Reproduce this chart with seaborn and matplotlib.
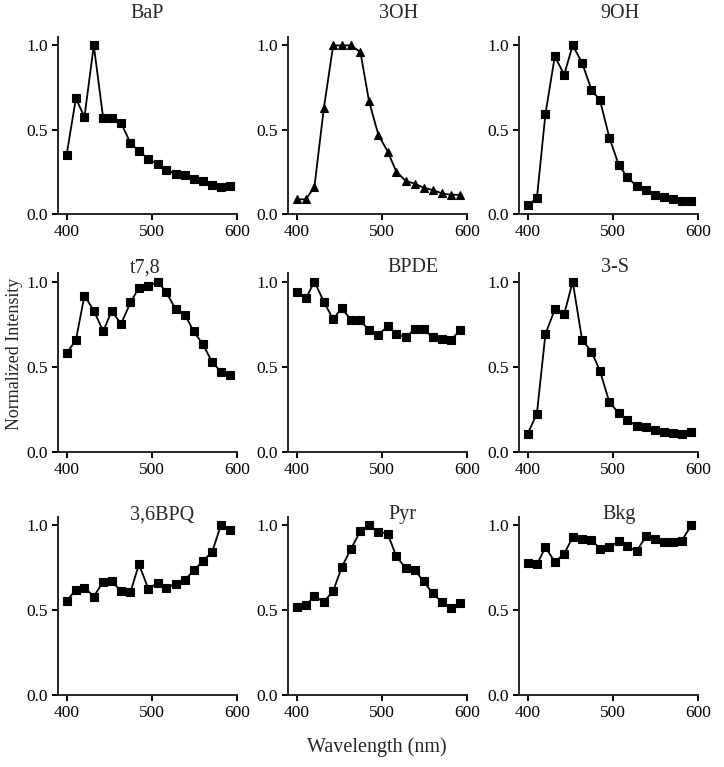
import numpy as np
import pandas as pd
import matplotlib
matplotlib.use("Agg")
import matplotlib.pyplot as plt
import seaborn as sns

# wavelengths (nm), 19 emission channels
wavelength = [400, 411, 421, 432, 443, 453, 464, 475, 485, 496,
              507, 517, 528, 539, 549, 560, 571, 581, 592]

BaP = [0.348, 0.686, 0.575, 1.0, 0.569, 0.571, 0.54, 0.421, 0.372, 0.328,
       0.294, 0.263, 0.237, 0.229, 0.21, 0.194, 0.172, 0.16, 0.168]
OH3 = [0.087, 0.087, 0.161, 0.626, 1.0, 1.0, 1.0, 0.96, 0.67, 0.47,
       0.37, 0.252, 0.197, 0.179, 0.156, 0.142, 0.122, 0.114, 0.114]
OH9 = [0.051, 0.094, 0.593, 0.935, 0.827, 1.0, 0.898, 0.736, 0.675, 0.453,
       0.291, 0.219, 0.165, 0.142, 0.114, 0.1, 0.087, 0.077, 0.077]
t78 = [0.579, 0.656, 0.917, 0.83, 0.708, 0.828, 0.751, 0.877, 0.964, 0.972,
       1.0, 0.937, 0.838, 0.806, 0.708, 0.632, 0.526, 0.472, 0.45]
BPDE = [0.941, 0.901, 1.0, 0.881, 0.779, 0.846, 0.773, 0.773, 0.713, 0.688,
        0.737, 0.694, 0.672, 0.723, 0.719, 0.672, 0.664, 0.658, 0.713]
S3 = [0.105, 0.225, 0.692, 0.836, 0.808, 1.0, 0.658, 0.589, 0.476, 0.292,
      0.229, 0.186, 0.154, 0.144, 0.13, 0.119, 0.111, 0.107, 0.115]
BPQ36 = [0.553, 0.621, 0.634, 0.581, 0.668, 0.674, 0.611, 0.607, 0.771, 0.626,
         0.662, 0.634, 0.656, 0.678, 0.735, 0.789, 0.846, 1.0, 0.976]
Pyr = [0.52, 0.53, 0.583, 0.549, 0.613, 0.753, 0.864, 0.966, 1.0, 0.964,
       0.951, 0.818, 0.749, 0.737, 0.67, 0.599, 0.547, 0.514, 0.54]
Bkg = [0.776, 0.77, 0.872, 0.785, 0.833, 0.931, 0.923, 0.917, 0.862, 0.872,
       0.906, 0.876, 0.85, 0.935, 0.921, 0.9, 0.902, 0.911, 1.0]

titles = ["BaP", "3OH", "9OH", "t7,8", "BPDE", "3-S", "3,6BPQ", "Pyr", "Bkg"]
series = [BaP, OH3, OH9, t78, BPDE, S3, BPQ36, Pyr, Bkg]
markers = ["s", "^", "s", "s", "s", "s", "s", "s", "s"]

sns.set_style("ticks")
plt.rcParams['font.family'] = ['Liberation Serif', 'DejaVu Serif']
plt.rcParams['axes.linewidth'] = 1.4

W, H = 724, 767
fig = plt.figure(figsize=(W / 100, H / 100), dpi=100)

col_x = [58, 288, 519]
row_y = [(37, 214), (273, 452), (517, 695)]
axw = 179
# title centre positions in pixels
title_pos = [(147, 14), (399, 14), (620, 14),
             (145, 268), (413, 268), (615, 268),
             (162, 515), (402, 515), (619, 515)]

for i in range(9):
    r, c = divmod(i, 3)
    top, bot = row_y[r]
    ax = fig.add_axes([col_x[c] / W, 1 - bot / H, axw / W, (bot - top) / H])
    df = pd.DataFrame({"wl": wavelength, "val": series[i]})
    sns.lineplot(data=df, x="wl", y="val", ax=ax, color="black",
                 marker=markers[i], markersize=5.2 if markers[i] == "s" else 6,
                 markeredgecolor="black", markeredgewidth=0.8, linewidth=1.3)
    ax.set_xlim(390, 600)
    ax.set_ylim(0, 1.05)
    ax.set_xticks([400, 500, 600])
    ax.set_yticks([0.0, 0.5, 1.0])
    ax.set_yticklabels(["0.0", "0.5", "1.0"])
    ax.tick_params(labelsize=12.5, length=4.5, width=1.4, colors="black", pad=2.5)
    ax.set_xlabel("")
    ax.set_ylabel("")
    sns.despine(ax=ax)
    tx, ty = title_pos[i]
    fig.text(tx / W, 1 - ty / H, titles[i], ha="center", va="center", fontsize=14.5)

fig.text(15 / W, 1 - 354 / H, "Normalized Intensity", rotation=90,
         ha="center", va="center", fontsize=13)
fig.text(377 / W, 1 - 747 / H, "Wavelength (nm)", ha="center", va="center",
         fontsize=14.5)

fig.savefig("out.png", dpi=100)
